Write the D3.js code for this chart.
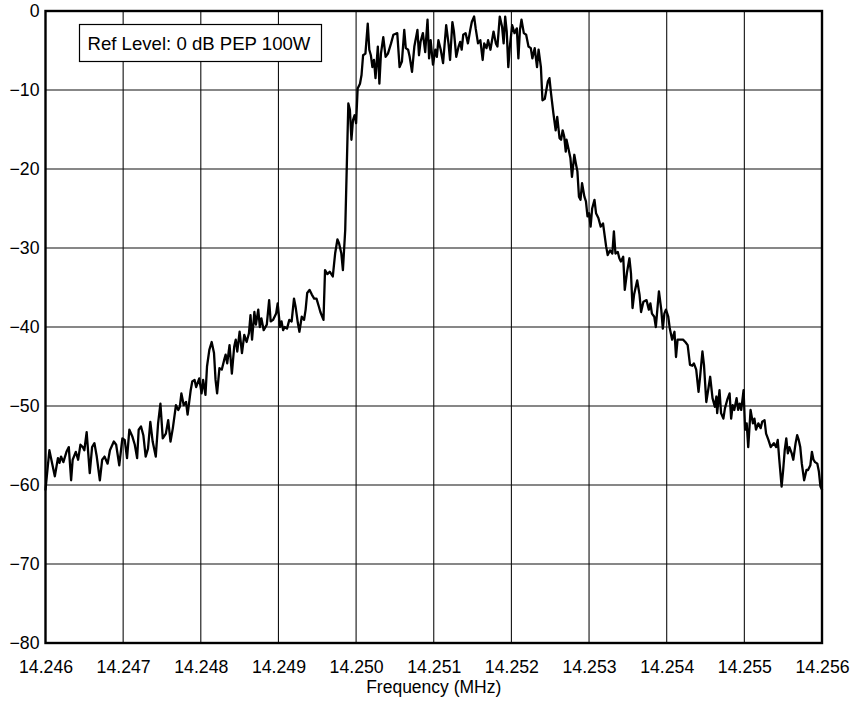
<!DOCTYPE html>
<html>
<head>
<meta charset="utf-8">
<script src="https://cdn.jsdelivr.net/npm/d3@7"></script>
<style>
  html, body { margin: 0; padding: 0; background: #fff; }
  svg { display: block; }
  text { font-family: "Liberation Sans", Arial, Helvetica, sans-serif; fill: #000; }
</style>
</head>
<body>
<svg id="chart" width="852" height="702"></svg>
<script>
// ---------------- data ----------------
const freqTicksMHz = [14.246, 14.247, 14.248, 14.249, 14.250, 14.251, 14.252, 14.253, 14.254, 14.255, 14.256];
const levelTicksDb = [0, -10, -20, -30, -40, -50, -60, -70, -80];
const xTitle = "Frequency (MHz)";
const legendText = "Ref Level: 0 dB PEP 100W";

const freqMHz = [
14.24600,14.24605,14.24612,14.24616,14.24618,14.24620,14.24623,14.24627,14.24630,14.24633,
14.24635,14.24639,14.24642,14.24645,14.24648,14.24650,14.24653,14.24657,14.24660,14.24663,
14.24666,14.24670,14.24673,14.24676,14.24680,14.24683,14.24688,14.24691,14.24695,14.24699,
14.24702,14.24705,14.24708,14.24712,14.24715,14.24718,14.24720,14.24723,14.24726,14.24729,
14.24732,14.24735,14.24738,14.24742,14.24745,14.24748,14.24751,14.24755,14.24758,14.24761,
14.24764,14.24768,14.24771,14.24773,14.24775,14.24778,14.24781,14.24783,14.24787,14.24789,
14.24792,14.24794,14.24798,14.24801,14.24803,14.24806,14.24808,14.24811,14.24814,14.24817,
14.24819,14.24821,14.24824,14.24827,14.24830,14.24832,14.24834,14.24837,14.24840,14.24843,
14.24845,14.24847,14.24850,14.24853,14.24856,14.24859,14.24862,14.24864,14.24866,14.24869,
14.24871,14.24874,14.24876,14.24878,14.24881,14.24885,14.24888,14.24890,14.24893,14.24897,
14.24899,14.24902,14.24904,14.24906,14.24908,14.24911,14.24914,14.24917,14.24920,14.24922,
14.24925,14.24927,14.24930,14.24933,14.24935,14.24937,14.24940,14.24943,14.24946,14.24949,
14.24952,14.24954,14.24958,14.24960,14.24963,14.24966,14.24970,14.24973,14.24976,14.24978,
14.24981,14.24983,14.24986,14.24988,14.24990,14.24992,14.24994,14.24996,14.24998,14.25000,
14.25002,14.25005,14.25007,14.25009,14.25012,14.25015,14.25017,14.25019,14.25021,14.25023,
14.25025,14.25028,14.25030,14.25032,14.25035,14.25038,14.25041,14.25045,14.25048,14.25053,
14.25056,14.25059,14.25062,14.25064,14.25067,14.25069,14.25072,14.25075,14.25079,14.25081,
14.25083,14.25086,14.25089,14.25092,14.25094,14.25096,14.25099,14.25102,14.25104,14.25106,
14.25109,14.25112,14.25116,14.25119,14.25121,14.25124,14.25126,14.25129,14.25132,14.25134,
14.25136,14.25138,14.25141,14.25144,14.25147,14.25149,14.25152,14.25154,14.25157,14.25160,
14.25163,14.25165,14.25168,14.25170,14.25173,14.25177,14.25180,14.25182,14.25185,14.25188,
14.25190,14.25192,14.25194,14.25196,14.25198,14.25201,14.25204,14.25207,14.25209,14.25211,
14.25213,14.25216,14.25219,14.25222,14.25225,14.25227,14.25230,14.25233,14.25235,14.25238,
14.25240,14.25243,14.25247,14.25249,14.25251,14.25254,14.25257,14.25259,14.25262,14.25264,
14.25266,14.25268,14.25270,14.25271,14.25273,14.25276,14.25278,14.25281,14.25283,14.25285,
14.25287,14.25289,14.25291,14.25294,14.25296,14.25298,14.25300,14.25302,14.25304,14.25307,
14.25309,14.25312,14.25315,14.25318,14.25322,14.25324,14.25327,14.25330,14.25332,14.25334,
14.25337,14.25339,14.25341,14.25344,14.25346,14.25349,14.25352,14.25354,14.25356,14.25358,
14.25362,14.25365,14.25367,14.25370,14.25374,14.25377,14.25379,14.25381,14.25384,14.25386,
14.25389,14.25390,14.25393,14.25395,14.25397,14.25399,14.25402,14.25404,14.25407,14.25410,
14.25412,14.25414,14.25417,14.25421,14.25424,14.25427,14.25430,14.25433,14.25435,14.25438,
14.25441,14.25443,14.25446,14.25448,14.25451,14.25454,14.25456,14.25459,14.25462,14.25464,
14.25465,14.25468,14.25470,14.25473,14.25475,14.25478,14.25481,14.25483,14.25485,14.25487,
14.25490,14.25492,14.25494,14.25496,14.25499,14.25501,14.25503,14.25505,14.25508,14.25511,
14.25513,14.25515,14.25518,14.25521,14.25523,14.25526,14.25528,14.25531,14.25534,14.25538,
14.25541,14.25543,14.25545,14.25548,14.25550,14.25552,14.25554,14.25556,14.25558,14.25561,
14.25563,14.25566,14.25568,14.25570,14.25572,14.25574,14.25577,14.25580,14.25582,14.25585,
14.25587,14.25589,14.25591,14.25594,14.25596,14.25598,14.25600
];

const levelDb = [
-60.6,-55.6,-58.9,-56.6,-57.2,-56.4,-57.1,-55.8,-55.2,-59.4,
-56.8,-55.8,-56.8,-54.9,-55.2,-55.6,-53.3,-58.5,-55.2,-54.7,
-56.4,-59.4,-56.8,-56.4,-57.3,-55.6,-54.5,-54.9,-57.5,-54.1,
-54.3,-56.6,-53.0,-53.9,-54.9,-56.6,-53.0,-52.6,-53.7,-56.4,
-55.4,-52.0,-54.5,-56.4,-52.2,-49.7,-54.1,-53.5,-51.8,-54.5,
-52.8,-49.9,-50.5,-50.1,-48.4,-49.9,-49.5,-51.1,-48.0,-46.9,
-46.7,-47.6,-46.5,-48.4,-46.7,-48.6,-45.0,-42.9,-41.9,-43.3,
-46.7,-48.4,-45.2,-45.4,-44.2,-43.5,-44.6,-42.3,-45.9,-42.5,
-41.6,-43.1,-40.6,-43.3,-41.0,-41.9,-40.8,-38.5,-41.6,-38.1,
-39.7,-37.8,-40.0,-38.9,-40.4,-39.7,-36.6,-39.3,-39.1,-38.3,
-37.0,-40.0,-39.3,-40.4,-40.0,-40.2,-39.1,-39.3,-36.4,-37.4,
-39.5,-40.6,-38.7,-39.1,-37.8,-35.7,-35.3,-35.9,-36.4,-36.4,
-37.4,-38.1,-39.1,-32.8,-33.3,-33.0,-33.6,-30.7,-28.9,-29.4,
-30.7,-32.8,-27.7,-19.7,-11.7,-12.5,-16.3,-13.8,-13.2,-14.2,
-9.8,-9.2,-8.1,-5.6,-5.4,-1.6,-4.9,-5.6,-7.1,-6.2,
-8.5,-4.5,-9.2,-5.4,-3.3,-5.8,-5.4,-4.1,-3.0,-2.8,
-7.1,-6.4,-2.4,-4.7,-4.9,-5.8,-7.7,-4.5,-2.4,-5.6,
-3.9,-2.8,-5.2,-1.1,-6.0,-3.7,-6.8,-4.9,-5.8,-3.7,
-4.9,-6.6,-1.8,-4.1,-6.2,-1.4,-2.6,-5.8,-4.5,-3.9,
-4.9,-3.0,-2.8,-4.1,-2.4,-1.4,-0.7,-2.2,-4.1,-3.7,
-6.2,-4.1,-4.7,-3.7,-4.9,-2.6,-4.1,-4.5,-0.7,-2.0,
-4.1,-0.7,-2.6,-7.1,-4.5,-1.8,-2.8,-2.2,-6.0,-2.4,
-1.1,-2.8,-3.0,-4.5,-4.7,-6.0,-4.7,-7.1,-4.9,-7.1,
-11.3,-11.1,-8.9,-8.5,-10.4,-12.9,-15.1,-13.4,-16.1,-16.3,
-15.1,-15.9,-17.8,-16.3,-17.2,-18.6,-21.0,-18.2,-19.3,-20.3,
-23.5,-23.9,-21.8,-23.5,-24.1,-26.0,-25.6,-27.3,-25.0,-23.9,
-25.6,-26.2,-27.3,-26.9,-29.8,-30.9,-30.3,-30.7,-27.9,-30.7,
-30.5,-31.3,-31.7,-31.1,-35.3,-33.0,-31.3,-33.2,-37.6,-35.9,
-34.1,-35.9,-38.1,-36.8,-36.6,-37.8,-37.0,-38.3,-38.7,-40.0,
-36.6,-35.5,-37.8,-40.2,-38.3,-37.8,-38.7,-40.2,-41.6,-40.6,
-43.8,-41.6,-41.6,-41.6,-41.9,-42.3,-44.8,-44.9,-44.6,-45.4,
-48.2,-46.3,-43.1,-44.8,-49.5,-47.6,-46.3,-49.0,-50.1,-48.8,
-50.9,-48.0,-50.9,-51.6,-50.3,-49.2,-48.4,-51.6,-49.9,-50.5,
-49.0,-50.5,-49.7,-50.5,-48.0,-53.0,-52.2,-55.2,-50.5,-52.2,
-51.6,-53.0,-52.2,-52.8,-52.0,-51.8,-53.5,-54.3,-55.2,-54.7,
-55.2,-54.3,-56.8,-60.2,-58.1,-55.6,-54.1,-56.0,-55.2,-56.0,
-56.8,-54.7,-53.7,-54.3,-55.2,-57.3,-59.4,-58.1,-58.1,-57.5,
-55.8,-56.8,-57.1,-57.3,-58.3,-60.2,-60.6
];

// ---------------- drawing ----------------
const W = 852, H = 702;
const plot = { left: 45.5, right: 822, top: 11, bottom: 643 };

const svg = d3.select("#chart");

const x = d3.scaleLinear()
  .domain([freqTicksMHz[0], freqTicksMHz[freqTicksMHz.length - 1]])
  .range([plot.left, plot.right]);
const y = d3.scaleLinear()
  .domain([d3.min(levelTicksDb), d3.max(levelTicksDb)])
  .range([plot.bottom, plot.top]);

// grid
const grid = svg.append("g").attr("class", "grid");
grid.selectAll("line.v")
  .data(freqTicksMHz.slice(1, -1))
  .join("line")
  .attr("class", "v")
  .attr("x1", d => x(d)).attr("x2", d => x(d))
  .attr("y1", plot.top).attr("y2", plot.bottom)
  .attr("stroke", "#111").attr("stroke-width", 1.1);
grid.selectAll("line.h")
  .data(levelTicksDb.slice(1, -1))
  .join("line")
  .attr("class", "h")
  .attr("x1", plot.left).attr("x2", plot.right)
  .attr("y1", d => y(d)).attr("y2", d => y(d))
  .attr("stroke", "#111").attr("stroke-width", 1.1);

// axes (labels only)
const fontSize = "17.7px";
const xAxis = d3.axisBottom(x)
  .tickValues(freqTicksMHz)
  .tickFormat(d3.format(".3f"))
  .tickSize(0)
  .tickPadding(17);
const gx = svg.append("g")
  .attr("transform", `translate(0,${plot.bottom})`)
  .call(xAxis);
gx.select(".domain").remove();
gx.selectAll("text").style("font-size", fontSize).attr("fill", "#000")
  .style("font-family", '"Liberation Sans", Arial, sans-serif');

const yAxis = d3.axisLeft(y)
  .tickValues(levelTicksDb)
  .tickFormat(d3.format("d"))
  .tickSize(0)
  .tickPadding(6);
const gy = svg.append("g")
  .attr("transform", `translate(${plot.left},0)`)
  .call(yAxis);
gy.select(".domain").remove();
gy.selectAll("text").style("font-size", fontSize).attr("fill", "#000")
  .style("font-family", '"Liberation Sans", Arial, sans-serif');

// axis title
svg.append("text")
  .attr("x", (plot.left + plot.right) / 2)
  .attr("y", 693)
  .attr("text-anchor", "middle")
  .style("font-size", "17.5px")
  .text(xTitle);

// trace
const data = d3.zip(freqMHz, levelDb);
const line = d3.line()
  .x(d => x(d[0]))
  .y(d => y(d[1]));
svg.append("path")
  .datum(data)
  .attr("d", line)
  .attr("fill", "none")
  .attr("stroke", "#000")
  .attr("stroke-width", 2.3)
  .attr("stroke-linejoin", "round")
  .attr("stroke-linecap", "round");

// legend box
const lg = svg.append("g");
lg.append("rect")
  .attr("x", 79.5).attr("y", 24.5)
  .attr("width", 242).attr("height", 37)
  .attr("fill", "#fff")
  .attr("stroke", "#000").attr("stroke-width", 1.2);
lg.append("text")
  .attr("x", 87.5).attr("y", 50)
  .style("font-size", "18.6px")
  .text(legendText);

// frame
svg.append("rect")
  .attr("x", plot.left).attr("y", plot.top)
  .attr("width", plot.right - plot.left)
  .attr("height", plot.bottom - plot.top)
  .attr("fill", "none")
  .attr("stroke", "#000")
  .attr("stroke-width", 2.4);
</script>
</body>
</html>
